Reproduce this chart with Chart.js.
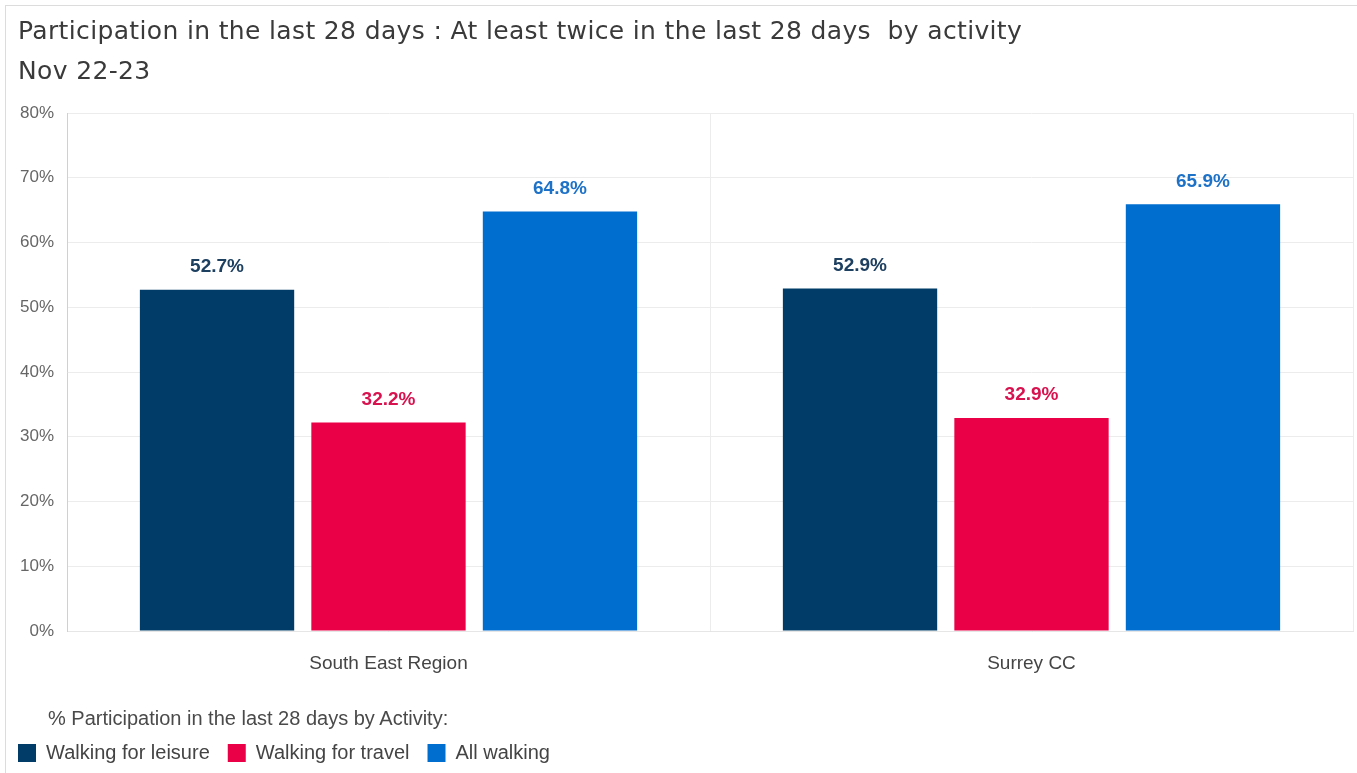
<!DOCTYPE html>
<html>
<head>
<meta charset="utf-8">
<script src="https://cdn.jsdelivr.net/npm/chart.js@4"></script>
<style>
  body { margin: 0; background: #fff; }
  #wrap { position: absolute; left: 0; top: 0; width: 1357px; height: 773px; overflow: hidden; }
  #card { position: absolute; left: 5px; top: 5px; width: 1400px; height: 800px; border: 1px solid #dcdcdc; box-sizing: border-box; }
  #title { position: absolute; left: 18px; top: 16px; font: 25px "DejaVu Sans", sans-serif; letter-spacing: 0.35px; color: #3a3a3a; white-space: pre; }
  #subtitle { position: absolute; left: 18px; top: 56px; font: 25px "DejaVu Sans", sans-serif; letter-spacing: 0.35px; color: #3a3a3a; }
  #caption { position: absolute; left: 48px; top: 707px; font: 20px "Liberation Sans", Arial, sans-serif; color: #4a4a4a; }
  canvas { position: absolute; left: 0; top: 0; }
</style>
</head>
<body>
<div id="wrap">
  <div id="card"></div>
  <canvas id="chart" width="1357" height="773"></canvas>
  <div id="title">Participation in the last 28 days : At least twice in the last 28 days  by activity</div>
  <div id="subtitle">Nov 22-23</div>
  <div id="caption">% Participation in the last 28 days by Activity:</div>
</div>
<script>
// data
const categories = ['South East Region', 'Surrey CC'];
const seriesNames = ['Walking for leisure', 'Walking for travel', 'All walking'];
const leisureValues = [52.7, 52.9];
const travelValues = [32.2, 32.9];
const allWalkingValues = [64.8, 65.9];
const yTicks = [0, 10, 20, 30, 40, 50, 60, 70, 80];

const barColours = ['#013c68', '#ea0046', '#006ecf'];
const labelColours = ['#1d3f60', '#d8124f', '#1d72c8'];

// value labels above each bar
const valueLabels = {
  id: 'valueLabels',
  afterDatasetsDraw(chart) {
    const ctx = chart.ctx;
    ctx.save();
    ctx.font = 'bold 19px "Liberation Sans", Arial, sans-serif';
    ctx.textAlign = 'center';
    ctx.textBaseline = 'middle';
    chart.data.datasets.forEach((ds, i) => {
      chart.getDatasetMeta(i).data.forEach((bar, j) => {
        ctx.fillStyle = labelColours[i];
        ctx.fillText(ds.data[j].toFixed(1) + '%', bar.x, bar.y - 23);
      });
    });
    ctx.restore();
  }
};

const ctx = document.getElementById('chart').getContext('2d');
new Chart(ctx, {
  type: 'bar',
  data: {
    labels: categories,
    datasets: [
      { label: seriesNames[0], data: leisureValues, backgroundColor: barColours[0], borderWidth: 0 },
      { label: seriesNames[1], data: travelValues, backgroundColor: barColours[1], borderWidth: 0 },
      { label: seriesNames[2], data: allWalkingValues, backgroundColor: barColours[2], borderWidth: 0 }
    ]
  },
  options: {
    responsive: false,
    animation: false,
    layout: { padding: { left: 0, right: 4, top: 113, bottom: 0 } },
    categoryPercentage: 0.8,
    barPercentage: 0.9,
    scales: {
      x: {
        grid: { color: '#ececec', drawTicks: false, offset: true },
        border: { color: '#e6e6e6' },
        ticks: {
          padding: 21,
          color: '#454545',
          font: { family: '"Liberation Sans", Arial, sans-serif', size: 19 }
        },
        afterFit(scale) { scale.height = 94; }
      },
      y: {
        min: 0,
        max: 80,
        afterBuildTicks(scale) { scale.ticks = yTicks.map(v => ({ value: v })); },
        grid: {
          color: ctx => ctx.tick && ctx.tick.value === 0 ? '#c8c8c8' : '#ececec',
          tickLength: 6,
          tickColor: '#ffffff'
        },
        border: { color: '#d0d0d0' },
        ticks: {
          padding: 7,
          color: '#666',
          font: { family: '"Liberation Sans", Arial, sans-serif', size: 17 },
          callback: v => v + '%'
        },
        afterFit(scale) { scale.width = 67; }
      }
    },
    plugins: {
      legend: {
        position: 'bottom',
        align: 'start',
        labels: {
          boxWidth: 18,
          boxHeight: 18,
          padding: 18,
          color: '#444',
          font: { family: '"Liberation Sans", Arial, sans-serif', size: 20 }
        }
      },
      tooltip: { enabled: false }
    }
  },
  plugins: [valueLabels]
});
</script>
</body>
</html>
